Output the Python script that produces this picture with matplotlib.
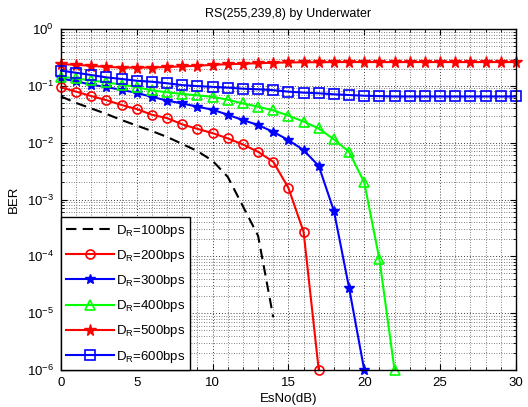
import numpy as np
import matplotlib
matplotlib.use("Agg")
import matplotlib.pyplot as plt
from matplotlib.ticker import MultipleLocator, LogLocator, NullFormatter

plt.rcParams['font.family'] = ['Liberation Sans', 'DejaVu Sans']
plt.rcParams['mathtext.fontset'] = 'custom'
plt.rcParams['mathtext.rm'] = 'Liberation Sans'
plt.rcParams['mathtext.it'] = 'Liberation Sans:italic'

# EsNo axis (dB)
esno_100 = np.arange(0, 15)
esno_200 = np.arange(0, 18)
esno_300 = np.arange(0, 21)
esno_400 = np.arange(0, 23)
esno_500 = np.arange(0, 31)
esno_600 = np.arange(0, 31)

ber_100 = [0.065, 0.050, 0.040, 0.032, 0.025, 0.020, 0.016, 0.0126, 0.0095,
           0.0071, 0.0048, 0.0025, 7.6e-4, 2.3e-4, 8.5e-6]
ber_200 = [0.094, 0.079, 0.066, 0.056, 0.046, 0.039, 0.031, 0.027, 0.021,
           0.0175, 0.0147, 0.0119, 0.0093, 0.0069, 0.0046, 0.0016, 2.7e-4, 1e-6]
ber_300 = [0.135, 0.120, 0.105, 0.095, 0.085, 0.075, 0.064, 0.055, 0.049,
           0.043, 0.038, 0.031, 0.025, 0.0204, 0.0155, 0.0111, 0.0074,
           0.0039, 6.3e-4, 2.8e-5, 1e-6]
ber_400 = [0.145, 0.135, 0.125, 0.115, 0.105, 0.095, 0.083, 0.077, 0.072,
           0.068, 0.064, 0.057, 0.049, 0.043, 0.037, 0.030, 0.0235, 0.0178,
           0.0114, 0.0069, 0.0020, 8.9e-5, 1e-6]
ber_500 = [0.240, 0.235, 0.225, 0.215, 0.210, 0.210, 0.210, 0.215, 0.220,
           0.225, 0.235, 0.240, 0.245, 0.250, 0.255, 0.258, 0.260, 0.260,
           0.262, 0.262, 0.262, 0.262, 0.262, 0.262, 0.262, 0.262, 0.262,
           0.262, 0.262, 0.262, 0.262]
ber_600 = [0.185, 0.170, 0.155, 0.141, 0.132, 0.123, 0.118, 0.111, 0.103,
           0.099, 0.096, 0.093, 0.089, 0.087, 0.084, 0.079, 0.076, 0.074,
           0.071, 0.069, 0.067, 0.066, 0.065, 0.065, 0.065, 0.065, 0.065,
           0.065, 0.065, 0.065, 0.065]

labels = [r'D$_\mathrm{R}$=100bps', r'D$_\mathrm{R}$=200bps',
          r'D$_\mathrm{R}$=300bps', r'D$_\mathrm{R}$=400bps',
          r'D$_\mathrm{R}$=500bps', r'D$_\mathrm{R}$=600bps']
xticks = [0, 5, 10, 15, 20, 25, 30]

fig = plt.figure(figsize=(5.28, 4.07), dpi=100)
ax = fig.add_axes([0.1155, 0.0909, 0.8615, 0.8378])

lw = 1.5
ax.semilogy(esno_100, ber_100, color='black', ls=(0, (5, 3)), lw=lw,
            label=labels[0], clip_on=False)
ax.semilogy(esno_200, ber_200, color='red', marker='o', ms=6.5, mfc='none',
            mew=1.2, lw=lw, label=labels[1], clip_on=False)
ax.semilogy(esno_300, ber_300, color='blue', marker='*', ms=7, lw=lw,
            label=labels[2], clip_on=False)
ax.semilogy(esno_400, ber_400, color='#00ff00', marker='^', ms=7, mfc='none',
            mew=1.2, lw=lw, label=labels[3], clip_on=False)
ax.semilogy(esno_500, ber_500, color='red', marker='*', ms=8.5, lw=lw,
            label=labels[4], clip_on=False)
ax.semilogy(esno_600, ber_600, color='blue', marker='s', ms=6.5, mfc='none',
            mew=1.2, lw=lw, label=labels[5], clip_on=False)

ax.set_xlim(0, 30)
ax.set_ylim(1e-6, 1)
ax.set_xticks(xticks)
ax.xaxis.set_minor_locator(MultipleLocator(1))
ax.yaxis.set_major_locator(LogLocator(base=10, numticks=10))
ax.yaxis.set_minor_locator(LogLocator(base=10, subs=np.arange(2, 10), numticks=20))
ax.yaxis.set_minor_formatter(NullFormatter())

ax.tick_params(which='both', direction='in', top=True, right=True,
               labelsize=9.5, pad=5)
ax.tick_params(which='major', length=4)
ax.tick_params(which='minor', length=2)

ax.grid(True, which='major', color='0.25', ls=(0, (1, 2)), lw=0.7)
ax.grid(True, which='minor', color='0.35', ls=(0, (1, 2)), lw=0.6)
ax.set_axisbelow(True)

for s in ax.spines.values():
    s.set_linewidth(1.0)

ax.set_title('RS(255,239,8) by Underwater', fontsize=9, pad=9)
ax.set_xlabel('EsNo(dB)', fontsize=9.5, labelpad=3)
ax.set_ylabel('BER', fontsize=9.5, labelpad=5)

leg = ax.legend(loc='lower left', fontsize=9.5, borderaxespad=0,
                frameon=True, fancybox=False, edgecolor='black',
                handlelength=3.6, labelspacing=0.7, borderpad=0.4,
                handletextpad=0.15)
leg.get_frame().set_linewidth(1.0)
leg.get_frame().set_alpha(1)

fig.savefig('out.png', dpi=100)
